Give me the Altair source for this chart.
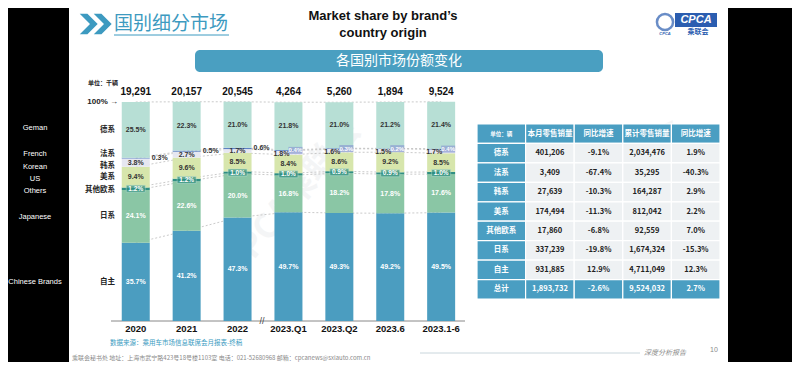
import altair as alt
import pandas as pd

# ---------------- data ----------------
categories = ["2020", "2021", "2022", "2023.Q1", "2023.Q2", "2023.6", "2023.1-6"]
totals = ["19,291", "20,157", "20,545", "4,264", "5,260", "1,894", "9,524"]
series_cn = ["自主", "日系", "其他欧系", "美系", "韩系", "法系", "德系"]
series_en = ["Chinese Brands", "Japanese", "Others", "US", "Korean", "French", "Geman"]
share_zizhu = [35.7, 41.2, 47.3, 49.7, 49.3, 49.2, 49.5]
share_japan = [24.1, 22.6, 20.0, 16.8, 18.2, 17.8, 17.6]
share_other_eu = [1.2, 1.2, 1.0, 1.0, 0.9, 0.9, 1.0]
share_us = [9.4, 9.6, 8.5, 8.4, 8.6, 9.2, 8.5]
share_korea = [3.8, 2.7, 1.7, 1.8, 1.6, 1.5, 1.7]
share_france = [0.3, 0.5, 0.6, 0.4, 0.3, 0.2, 0.4]
share_germany = [25.5, 22.3, 21.0, 21.8, 21.0, 21.2, 21.4]
series_colors = ["#4B9DC0", "#8AC6A5", "#2F8F82", "#D7E6AC", "#E6E7F1", "#5C82C3", "#B7DFD5"]

table_header = ["单位：辆", "本月零售销量", "同比增速", "累计零售销量", "同比增速"]
table_rows = ["德系", "法系", "韩系", "美系", "其他欧系", "日系", "自主", "总计"]
month_sales = ["401,206", "3,409", "27,639", "174,494", "17,860", "337,239", "931,885", "1,893,732"]
month_yoy = ["-9.1%", "-67.4%", "-10.3%", "-11.3%", "-6.8%", "-19.8%", "12.9%", "-2.6%"]
ytd_sales = ["2,034,476", "35,295", "164,287", "812,042", "92,559", "1,674,324", "4,711,049", "9,524,032"]
ytd_yoy = ["1.9%", "-40.3%", "2.9%", "2.2%", "7.0%", "-15.3%", "12.3%", "2.7%"]

LAT = "Liberation Sans"
CJK = "Noto Sans CJK SC"
TEAL = "#4A9EC2"

# ---------------- derived tables ----------------
shares = [share_zizhu, share_japan, share_other_eu, share_us, share_korea, share_france, share_germany]
recs = []
for ci, cat in enumerate(categories):
    acc = 0.0
    for si, s in enumerate(series_cn):
        v = shares[si][ci]
        recs.append(dict(cat=cat, series=s, en=series_en[si], v=v, y0=acc, y1=acc + v,
                         mid=acc + v / 2, label=f"{v:.1f}%", period="hist" if ci < 3 else "new"))
        acc += v
df = pd.DataFrame(recs)
df_cat = pd.DataFrame({"cat": categories, "total": totals})
df_first = df[df["cat"] == categories[0]]

row_keys = ["head"] + table_rows
col_keys = ["c0", "c1", "c2", "c3", "c4"]
cells = []
for j, h in enumerate(table_header):
    cells.append(dict(row="head", col=col_keys[j], text=h, kind="head"))
for i, r in enumerate(table_rows):
    kind = "total" if r == "总计" else "data"
    vals = [r, month_sales[i], month_yoy[i], ytd_sales[i], ytd_yoy[i]]
    for j, v in enumerate(vals):
        k = "side" if (j == 0 and kind == "data") else kind
        cells.append(dict(row=r, col=col_keys[j], text=v, kind=k))
df_cells = pd.DataFrame(cells)

# ---------------- bar chart group ----------------
xs = alt.Scale(domain=categories, range=[102.3, 458.6], paddingInner=0.45, paddingOuter=0.225)
ys = alt.Scale(domain=[0, 100], range=[313, 94], nice=False, zero=False)


def X(**kw):
    return alt.X("cat:N", sort=categories, scale=xs, axis=None, **kw)


def Y(f):
    return alt.Y(f + ":Q", scale=ys, axis=None)


base = alt.Chart(df)

lines = base.mark_line(color="#BDBDBD", strokeWidth=0.8, strokeDash=[2, 2]).encode(
    x=X(bandPosition=0.5), y=Y("y1"), detail="series:N")

bars = base.mark_bar().encode(
    x=X(), y=Y("y0"), y2="y1:Q",
    color=alt.Color("series:N", scale=alt.Scale(domain=series_cn, range=series_colors), legend=None))

dark_in = base.transform_filter(
    "datum.series=='德系' || datum.series=='美系' || (datum.series=='韩系' && datum.period=='hist')"
).mark_text(fontSize=7, fontWeight="bold", color="#333333", font=LAT).encode(
    x=X(), y=Y("mid"), text="label:N")

white_in = base.transform_filter("datum.series=='日系' || datum.series=='自主'").mark_text(
    fontSize=7, fontWeight="bold", color="white", font=LAT).encode(x=X(), y=Y("mid"), text="label:N")

oth_box = base.transform_filter("datum.series=='其他欧系'").mark_tick(
    thickness=7, size=19, color="#2F8F82", stroke="#BFE3DA", strokeWidth=0.6).encode(x=X(), y=Y("mid"))
oth_txt = base.transform_filter("datum.series=='其他欧系'").mark_text(
    fontSize=6.5, fontWeight="bold", color="white", font=LAT).encode(x=X(), y=Y("mid"), text="label:N")

fr_hist = base.transform_filter("datum.series=='法系' && datum.period=='hist'").mark_text(
    fontSize=7, fontWeight="bold", color="#333333", font=LAT, align="left", xOffset=16).encode(
    x=X(), y=Y("mid"), text="label:N")
fr_box = base.transform_filter("datum.series=='法系' && datum.period=='new'").mark_tick(
    thickness=7, size=14, color="#8A9BD1", xOffset=7).encode(x=X(), y=Y("mid"))
fr_txt = base.transform_filter("datum.series=='法系' && datum.period=='new'").mark_text(
    fontSize=6, fontWeight="bold", color="white", font=LAT, xOffset=7).encode(
    x=X(), y=Y("mid"), text="label:N")
ko_new = base.transform_filter("datum.series=='韩系' && datum.period=='new'").mark_text(
    fontSize=7, fontWeight="bold", color="#333333", font=LAT, xOffset=-7, dy=1).encode(
    x=X(), y=Y("mid"), text="label:N")

tot_txt = alt.Chart(df_cat).mark_text(fontSize=10, fontWeight="bold", color="#111111", font=LAT).encode(
    x=X(), y=alt.value(84), text="total:N")
cat_txt = alt.Chart(df_cat).mark_text(fontSize=9.5, fontWeight="bold", color="#111111", font=LAT).encode(
    x=X(), y=alt.value(321), text="cat:N")

first = alt.Chart(df_first)
series_lab = []
series_en_lab = []
for s, dy in zip(series_cn, [0, 0, 1, 0, 3.5, -4, 0]):
    series_lab.append(first.transform_filter(alt.datum.series == s).mark_text(
        fontSize=7.5, fontWeight="bold", color="#222222", font=CJK, align="right", dy=dy).encode(
        x=alt.value(107), y=Y("mid"), text="series:N"))
for s, dy in zip(series_cn, [0, 1, 2, 2, 4.5, -4, -2]):
    series_en_lab.append(first.transform_filter(alt.datum.series == s).mark_text(
        fontSize=7.5, color="white", font=LAT, dy=dy).encode(
        x=alt.value(27), y=Y("mid"), text="en:N"))

bar_group = alt.layer(lines, bars, dark_in, white_in, oth_box, oth_txt, fr_hist, fr_box, fr_txt, ko_new,
                      tot_txt, cat_txt, *series_lab, *series_en_lab)

# ---------------- table group ----------------
txs = alt.Scale(domain=col_keys, range=[469, 712], paddingInner=0, paddingOuter=0)
tys = alt.Scale(domain=row_keys, range=[116, 291], paddingInner=0, paddingOuter=0)
tbase = alt.Chart(df_cells)
t_rect = tbase.mark_rect(stroke="white", strokeWidth=1.2).encode(
    x=alt.X("col:N", scale=txs, axis=None), y=alt.Y("row:N", scale=tys, axis=None),
    fill=alt.condition("datum.kind=='data'", alt.value("#EEF1F3"), alt.value(TEAL)))
t_text = tbase.mark_text(fontWeight="bold", font=CJK).encode(
    x=alt.X("col:N", scale=txs, axis=None, bandPosition=0.5),
    y=alt.Y("row:N", scale=tys, axis=None, bandPosition=0.5),
    text="text:N",
    color=alt.condition("datum.kind=='data'", alt.value("#222222"), alt.value("white")),
    size=alt.condition("datum.text=='单位：辆'", alt.value(5.5), alt.value(7.5)))
table_group = alt.layer(t_rect, t_text)

# ---------------- decorations ----------------
one = pd.DataFrame({"k": [0]})


def rect(x0, x1, y0, y1, color, **kw):
    return alt.Chart(one).mark_rect(color=color, **kw).encode(
        x=alt.value(x0), x2=alt.value(x1), y=alt.value(y0), y2=alt.value(y1))


def txt(s, x, y, **kw):
    return alt.Chart(one).mark_text(text=s, **kw).encode(x=alt.value(x), y=alt.value(y))


def rule(x0, x1, y, color, w=1):
    return alt.Chart(one).mark_rule(color=color, strokeWidth=w).encode(
        x=alt.value(x0), x2=alt.value(x1), y=alt.value(y))


chevron = "M-1,-1 L-0.25,-1 L0.75,0 L-0.25,1 L-1,1 L0,0 Z"
decor = [
    rect(0, 61, 0, 354, "black"),
    rect(720, 784, 0, 354, "black"),
    # faint watermark
    txt("CPCA乘联会", 285, 190, fontSize=34, fontWeight="bold", color="#9AA5AA", opacity=0.10, angle=310, font=CJK),
    txt("CPCA乘联会", 610, 190, fontSize=34, fontWeight="bold", color="#9AA5AA", opacity=0.10, angle=310, font=CJK),
    alt.Chart(one).mark_point(shape=chevron, filled=True, size=420, color="#3D9AC0", opacity=1).encode(
        x=alt.value(82), y=alt.value(16)),
    alt.Chart(one).mark_point(shape=chevron, filled=True, size=420, color="#3D9AC0", opacity=1).encode(
        x=alt.value(96), y=alt.value(16)),
    txt("国别细分市场", 106, 16, fontSize=19, color="#3D9AC0", font=CJK, align="left"),
    rule(106, 221, 27, "#3D9AC0", 1),
    txt("Market share by brand\u2019s", 375, 8, fontSize=13, fontWeight="bold", color="#111111", font=LAT),
    txt("country origin", 375, 25, fontSize=13, fontWeight="bold", color="#111111", font=LAT),
    rect(187, 595, 42, 64, "#4A9FC1", cornerRadius=5),
    txt("各国别市场份额变化", 391, 53, fontSize=14, color="white", font=CJK),
    # logo
    alt.Chart(one).mark_point(shape="circle", filled=False, size=260, color="#2B5DB0", strokeWidth=2.5).encode(
        x=alt.value(657), y=alt.value(14)),
    rect(667, 709, 5, 19, "#2B5DB0"),
    txt("CPCA", 688, 12, fontSize=11, fontWeight="bold", fontStyle="italic", color="white", font=LAT),
    txt("乘联会", 690, 24, fontSize=7, fontWeight="bold", color="#2B5DB0", font=CJK),
    txt("CPCA", 657, 26, fontSize=4, fontWeight="bold", fontStyle="italic", color="#2B5DB0", font=LAT),
    # chart extras
    txt("单位：千辆", 80, 75, fontSize=6, fontWeight="bold", color="#222222", font=CJK, align="left"),
    txt("100% \u2192", 110, 94, fontSize=8, fontWeight="bold", color="#222222", font=LAT, align="right"),
    rule(103, 457, 313, "#888888", 1),
    txt("//", 254, 313, fontSize=9, color="#444444", font=LAT),
    # footer
    txt("数据来源：乘用车市场信息联席会月报表-终稿", 102, 335, fontSize=6.5, color="#3A9BC1", font=CJK, align="left"),
    txt("乘联会秘书处   地址：上海市武宁路423号18号楼1103室   电话：021-52680968   邮箱：cpcanews@sxlauto.com.cn",
        64, 349.5, fontSize=6, color="#8A8A8A", font=CJK, align="left"),
    rule(412, 632, 345, "#C9D6DC", 1),
    txt("深度分析报告", 657, 345, fontSize=7, fontStyle="italic", color="#8A8A8A", font=CJK),
    txt("10", 706, 342, fontSize=7, color="#8A8A8A", font=LAT),
]

chart = alt.layer(*decor, bar_group, table_group).resolve_scale(
    x="independent", y="independent", color="independent"
).properties(
    width=784, height=354, padding=0, autosize=alt.AutoSizeParams(type="none"), background="white"
).configure_view(stroke=None)

chart.save("out.html", embed_options={"renderer": "svg", "actions": False})
